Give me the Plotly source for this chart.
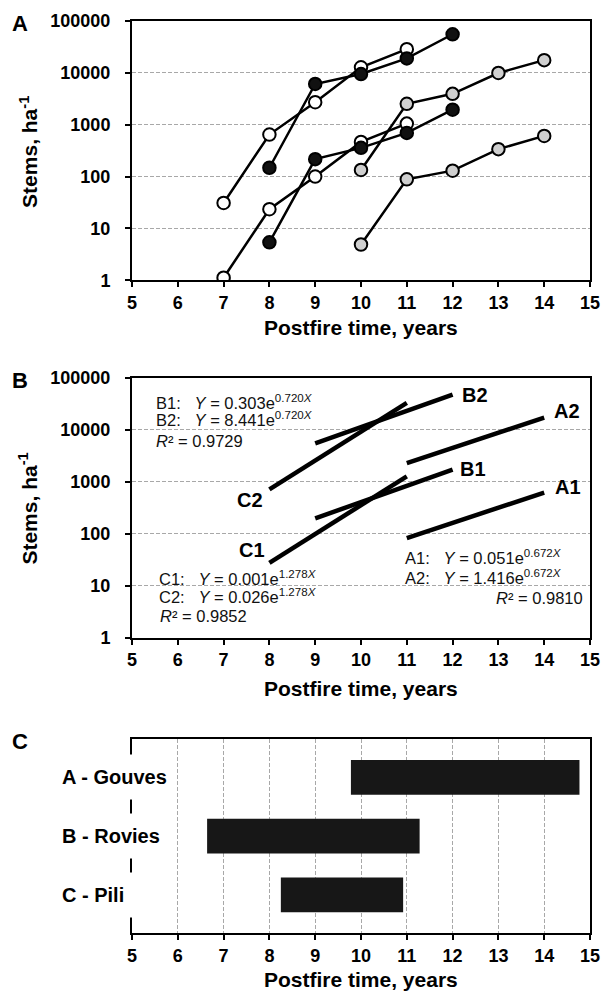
import plotly.graph_objects as go

# ---------------- data ----------------
# Panel A: observed stem densities (stems/ha) by postfire year
years_open_hi = [7, 8, 9, 10, 11]
stems_open_hi = [31, 646, 2720, 12800, 28600]
years_open_lo = [7, 8, 9, 10, 11]
stems_open_lo = [1.12, 23.5, 100, 465, 1050]
years_black_hi = [8, 9, 10, 11, 12]
stems_black_hi = [148, 6100, 9500, 19000, 55500]
years_black_lo = [8, 9, 10, 11, 12]
stems_black_lo = [5.4, 217, 358, 695, 1950]
years_gray_hi = [10, 11, 12, 13, 14]
stems_gray_hi = [134, 2530, 3940, 9940, 17600]
years_gray_lo = [10, 11, 12, 13, 14]
stems_gray_lo = [4.9, 88.6, 130, 338, 608]

# Panel B: fitted exponential lines (end points)
fit_years_A = [11, 14]
fit_A1 = [82.8, 622]
fit_A2 = [2298, 17270]
fit_years_B = [9, 12]
fit_B1 = [198, 1713]
fit_B2 = [5505, 47700]
fit_years_C = [8, 11]
fit_C1 = [27.6, 1274]
fit_C2 = [716, 33100]

# Panel C: postfire time span per site
sites = ["A - Gouves", "B - Rovies", "C - Pili"]
span_start = [9.78, 6.64, 8.25]
span_end = [14.77, 11.28, 10.92]

ytick_vals = [1, 10, 100, 1000, 10000, 100000]
ytick_text = ["1", "10", "100", "1000", "10000", "100000"]
xtick_vals = [5, 6, 7, 8, 9, 10, 11, 12, 13, 14, 15]

# ---------------- layout geometry ----------------
W, H = 611, 992
L, R, T, B = 132, 11, 15, 59
PW, PH = W - L - R, H - T - B


def px_x(px):
    return (px - L) / PW


def px_y(py):
    return (T + PH - py) / PH


FONT = "Liberation Sans, Arial, sans-serif"
fig = go.Figure()

# ---------------- panel A ----------------
series = [
    (years_open_hi, stems_open_hi, "white"),
    (years_open_lo, stems_open_lo, "white"),
    (years_black_hi, stems_black_hi, "#111111"),
    (years_black_lo, stems_black_lo, "#111111"),
    (years_gray_hi, stems_gray_hi, "#cfcfcf"),
    (years_gray_lo, stems_gray_lo, "#cfcfcf"),
]
for xs, ys, fill in series:
    fig.add_trace(go.Scatter(
        x=xs, y=ys, mode="lines+markers", xaxis="x", yaxis="y",
        line=dict(color="black", width=2.5),
        marker=dict(symbol="circle", size=12.5, color=fill,
                    line=dict(color="black", width=2)),
        showlegend=False, hoverinfo="x+y"))

# ---------------- panel B ----------------
fits = [
    (fit_years_A, fit_A1), (fit_years_A, fit_A2),
    (fit_years_B, fit_B1), (fit_years_B, fit_B2),
    (fit_years_C, fit_C1), (fit_years_C, fit_C2),
]
for xs, ys in fits:
    fig.add_trace(go.Scatter(
        x=xs, y=ys, mode="lines", xaxis="x2", yaxis="y2",
        line=dict(color="black", width=4.5),
        showlegend=False, hoverinfo="x+y"))

# ---------------- panel C ----------------
fig.add_trace(go.Bar(
    y=sites, x=[e - s for s, e in zip(span_start, span_end)], base=span_start,
    orientation="h", xaxis="x3", yaxis="y3", width=0.59,
    marker=dict(color="#171717", line=dict(width=0)),
    showlegend=False, hoverinfo="y"))

tickfont = dict(family=FONT, size=18, color="black", weight="bold")
common = dict(showline=True, linecolor="black", linewidth=2, mirror=True,
              ticks="outside", ticklen=5, tickwidth=1.5, tickcolor="black",
              tickfont=tickfont, zeroline=False)
GRID = dict(showgrid=True, gridcolor="#a8a8a8", griddash="4px,2px", gridwidth=1)

xcommon = dict(common, range=[5, 15], tickvals=xtick_vals,
               ticktext=[str(v) for v in xtick_vals], ticklabelstandoff=0)
ylog = dict(common, type="log", range=[0, 5], tickvals=ytick_vals,
            ticktext=ytick_text, ticklabelstandoff=11, **GRID)

fig.update_layout(
    width=W, height=H,
    margin=dict(l=L, r=R, t=T, b=B),
    paper_bgcolor="white", plot_bgcolor="white",
    font=dict(family=FONT, color="black"),
    showlegend=False,
    xaxis=dict(xcommon, domain=[0, 1], anchor="y", showgrid=False),
    yaxis=dict(ylog, domain=[px_y(276), 1], anchor="x"),
    xaxis2=dict(xcommon, domain=[0, 1], anchor="y2", showgrid=False),
    yaxis2=dict(ylog, domain=[px_y(635.7), px_y(374.3)], anchor="x2"),
    xaxis3=dict(xcommon, domain=[0, 1], anchor="y3", **GRID),
    yaxis3=dict(common, domain=[0, px_y(738)], anchor="x3", type="category",
                categoryorder="array", categoryarray=sites[::-1],
                range=[-0.65, 2.65], showticklabels=False, ticks="",
                showgrid=False),
)

ann = []
# panel letters
for letter, py in [("A", 17.5), ("B", 376.5), ("C", 740.5)]:
    ann.append(dict(text=letter, xref="paper", yref="paper", x=px_x(7), y=px_y(py),
                    xanchor="left", yanchor="middle", showarrow=False,
                    font=dict(family=FONT, size=22, weight="bold", color="black")))
# axis titles
for py in [323.5, 687, 980]:
    ann.append(dict(text="Postfire time, years", xref="paper", yref="paper",
                    x=0.5, y=px_y(py), xanchor="center", yanchor="middle",
                    showarrow=False,
                    font=dict(family=FONT, size=21, weight="bold", color="black")))
for py in [146.5, 505.5]:
    ann.append(dict(text="Stems, ha<sup>-1</sup>", xref="paper", yref="paper",
                    x=px_x(26), y=px_y(py), xanchor="center", yanchor="middle",
                    textangle=-90, showarrow=False,
                    font=dict(family=FONT, size=21, weight="bold", color="black")))

# panel B line labels (x in years, y in log10 stems)
line_labels = [("B2", 12.48, 4.68), ("A2", 14.50, 4.355), ("B1", 12.45, 3.247),
               ("A1", 14.51, 2.903), ("C2", 7.575, 2.654), ("C1", 7.62, 1.678)]
for txt, lx, ly in line_labels:
    ann.append(dict(text=txt, xref="x2", yref="y2", x=lx, y=ly,
                    xanchor="center", yanchor="middle", showarrow=False,
                    font=dict(family=FONT, size=20, weight="bold", color="black")))

S = "\u00a0"
eq_font = dict(family=FONT, size=16.5, color="#111111")
equations = [
    ("B1:" + S * 3 + "<i>Y</i> = 0.303e<sup>0.720<i>X</i></sup>", 5.48, 4.541, "left"),
    ("B2:" + S * 3 + "<i>Y</i> = 8.441e<sup>0.720<i>X</i></sup>", 5.48, 4.202, "left"),
    ("<i>R</i>² = 0.9729", 5.48, 3.795, "left"),
    ("C1:" + S * 3 + "<i>Y</i> = 0.001e<sup>1.278<i>X</i></sup>", 5.55, 1.142, "left"),
    ("C2:" + S * 3 + "<i>Y</i> = 0.026e<sup>1.278<i>X</i></sup>", 5.55, 0.81, "left"),
    ("<i>R</i>² = 0.9852", 5.57, 0.415, "left"),
    ("A1:" + S * 3 + "<i>Y</i> = 0.051e<sup>0.672<i>X</i></sup>", 10.92, 1.544, "left"),
    ("A2:" + S * 3 + "<i>Y</i> = 1.416e<sup>0.672<i>X</i></sup>", 10.92, 1.161, "left"),
    ("<i>R</i>² = 0.9810", 14.90, 0.765, "right"),
]
for txt, ex, ey, anc in equations:
    ann.append(dict(text=txt, xref="x2", yref="y2", x=ex, y=ey,
                    xanchor=anc, yanchor="middle", showarrow=False, font=eq_font))

# panel C site labels (cover the axis line like the original)
for site in sites:
    ann.append(dict(text=site, xref="paper", yref="y3", x=px_x(58), y=site,
                    xanchor="left", yanchor="middle", align="left",
                    width=110, height=42, bgcolor="white", borderpad=1,
                    showarrow=False,
                    font=dict(family=FONT, size=20, weight="bold", color="black")))

fig.update_layout(annotations=ann)
fig.write_html(
    "out.html",
    config={"displayModeBar": False},
    post_script="document.body.style.margin='0';document.body.style.overflow='hidden';",
)
